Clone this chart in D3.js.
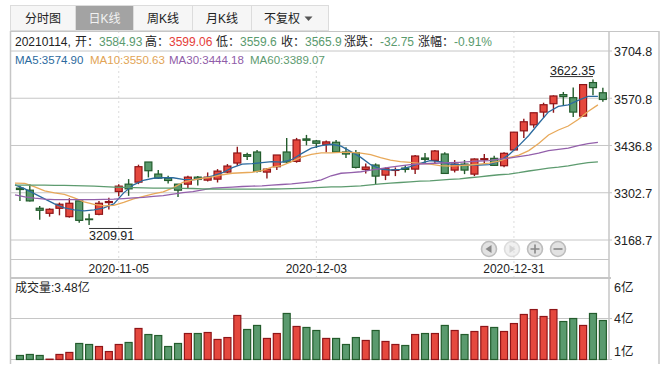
<!DOCTYPE html>
<html><head><meta charset="utf-8">
<script src="https://cdn.jsdelivr.net/npm/d3@7"></script>
<style>
html,body{margin:0;padding:0;background:#fff}
svg{display:block}
text{font-family:"Liberation Sans","Noto Sans CJK SC",sans-serif;font-size:12px;fill:#222}
</style></head><body>
<svg id="c" width="668" height="379"></svg>
<script>
const dates=["2020-10-22","2020-10-23","2020-10-26","2020-10-27","2020-10-28","2020-10-29","2020-10-30","2020-11-02","2020-11-03","2020-11-04","2020-11-05","2020-11-06","2020-11-09","2020-11-10","2020-11-11","2020-11-12","2020-11-13","2020-11-16","2020-11-17","2020-11-18","2020-11-19","2020-11-20","2020-11-23","2020-11-24","2020-11-25","2020-11-26","2020-11-27","2020-11-30","2020-12-01","2020-12-02","2020-12-03","2020-12-04","2020-12-07","2020-12-08","2020-12-09","2020-12-10","2020-12-11","2020-12-14","2020-12-15","2020-12-16","2020-12-17","2020-12-18","2020-12-21","2020-12-22","2020-12-23","2020-12-24","2020-12-25","2020-12-28","2020-12-29","2020-12-30","2020-12-31","2021-01-04","2021-01-05","2021-01-06","2021-01-07","2021-01-08","2021-01-11","2021-01-12","2021-01-13","2021-01-14"];
const dateTicks=["2020-11-05","2020-12-03","2020-12-31"];
const opens=[3314.3,3308.6,3257.3,3243.0,3257.3,3233.5,3278.2,3226.9,3240.2,3273.4,3304.8,3325.7,3331.4,3388.5,3354.3,3342.8,3325.7,3325.7,3345.6,3337.1,3339.9,3359.9,3385.6,3409.3,3416.9,3359.9,3375.1,3416.9,3390.3,3454.0,3448.3,3438.8,3444.5,3416.9,3415.0,3367.5,3379.9,3351.3,3364.6,3371.3,3368.4,3399.8,3393.2,3411.2,3365.6,3382.7,3354.2,3395.1,3398.9,3378.0,3422.7,3476.9,3494.0,3530.1,3553.9,3579.6,3571.0,3518.7,3613.8,3584.93];
const closes=[3310.5,3278.2,3251.6,3254.4,3268.7,3271.5,3223.0,3225.0,3271.5,3276.3,3320.0,3312.4,3375.2,3363.8,3342.8,3336.1,3308.6,3345.6,3339.0,3345.6,3362.7,3377.0,3414.1,3404.6,3361.8,3368.4,3408.4,3388.4,3451.2,3450.2,3441.7,3445.5,3416.9,3411.2,3373.2,3374.1,3348.5,3369.4,3365.6,3367.5,3405.5,3396.0,3419.8,3356.1,3382.7,3365.6,3397.0,3397.9,3379.0,3413.2,3473.1,3502.6,3528.2,3551.0,3575.8,3573.9,3530.1,3608.1,3599.5,3565.9];
const highs=[3321.0,3325.7,3263.9,3257.3,3273.4,3285.8,3280.1,3242.0,3278.2,3286.8,3325.7,3340.0,3380.9,3388.5,3365.7,3349.4,3325.7,3349.4,3348.5,3358.9,3368.4,3382.7,3432.1,3415.0,3422.6,3371.3,3408.4,3456.9,3456.9,3465.4,3451.2,3449.3,3451.2,3430.2,3422.6,3384.6,3384.6,3373.2,3373.2,3379.9,3408.4,3414.1,3422.6,3416.0,3394.1,3394.1,3398.9,3411.2,3406.5,3416.0,3473.1,3511.1,3528.2,3556.7,3577.7,3587.2,3599.5,3608.1,3622.35,3599.06];
const lows=[3278.2,3276.3,3225.0,3233.5,3237.3,3230.7,3216.4,3209.91,3237.3,3253.5,3291.5,3292.5,3325.7,3344.7,3340.0,3327.6,3289.5,3314.3,3321.9,3333.3,3330.4,3356.1,3378.0,3394.1,3358.9,3341.8,3365.6,3386.5,3386.5,3435.9,3428.3,3416.0,3415.0,3399.8,3370.3,3356.1,3325.7,3337.1,3348.5,3358.9,3354.2,3384.6,3382.7,3354.2,3358.9,3354.2,3348.5,3382.7,3377.1,3373.3,3420.8,3456.9,3485.4,3514.0,3528.2,3549.1,3515.9,3517.8,3577.7,3559.6];
const volumes=[0.36,0.45,0.36,0.03,0.45,0.63,1.43,1.34,1.16,0.71,1.34,1.52,2.77,2.23,2.14,1.16,1.43,2.32,2.32,2.41,1.79,1.96,3.93,2.68,3.04,1.88,2.32,4.11,2.95,2.86,2.59,1.88,1.88,1.34,1.96,1.70,2.59,1.61,1.34,1.25,2.23,2.32,2.32,3.04,2.59,2.23,2.50,2.95,2.86,2.50,3.21,4.02,4.46,3.84,4.46,3.39,3.66,3.04,4.11,3.48];
const ma5=[3323.8,3312.4,3298.2,3283.9,3269.6,3258.2,3252.5,3249.7,3252.5,3258.2,3269.6,3301.0,3323.8,3336.7,3342.4,3343.8,3343.8,3339.5,3338.1,3342.4,3349.5,3358.1,3372.3,3382.3,3383.7,3386.6,3389.4,3388.0,3395.1,3412.2,3427.9,3435.1,3438.8,3433.6,3417.9,3401.7,3380.9,3368.6,3365.8,3367.5,3375.2,3384.6,3392.3,3389.4,3382.9,3380.9,3380.0,3380.0,3380.9,3390.8,3409.4,3435.1,3463.6,3497.8,3530.6,3546.3,3550.6,3563.4,3574.8,3574.90];
const ma10=[3328.7,3328.1,3318.1,3306.7,3301.0,3296.7,3286.8,3275.3,3268.2,3263.9,3265.4,3273.9,3283.9,3291.0,3298.2,3303.9,3315.3,3331.0,3338.1,3342.4,3346.6,3352.4,3356.6,3358.1,3359.5,3363.8,3373.8,3378.0,3389.4,3402.3,3410.2,3414.2,3414.2,3415.9,3415.9,3413.7,3409.4,3400.8,3393.7,3389.4,3387.4,3384.6,3382.3,3378.0,3377.2,3378.0,3380.0,3382.6,3385.4,3390.8,3400.8,3408.0,3420.8,3440.8,3465.0,3479.3,3490.7,3509.2,3532.0,3550.63];
const ma30=[3295.3,3289.6,3285.9,3283.1,3281.9,3281.9,3281.9,3281.9,3281.9,3282.5,3283.1,3284.8,3286.8,3288.2,3291.0,3293.3,3297.3,3301.9,3304.7,3309.6,3314.4,3316.1,3317.3,3319.0,3320.1,3321.0,3323.0,3324.7,3326.7,3329.5,3332.4,3338.1,3349.5,3356.6,3358.6,3360.9,3365.2,3369.5,3373.8,3377.4,3380.9,3382.9,3384.3,3385.7,3386.6,3387.7,3389.4,3391.4,3392.3,3396.6,3399.4,3403.7,3408.0,3413.7,3420.8,3424.5,3427.9,3435.1,3440.8,3444.18];
const ma60=[3323.0,3323.0,3323.0,3322.7,3322.4,3322.1,3321.6,3321.0,3320.1,3318.7,3317.3,3316.4,3315.9,3315.3,3314.7,3314.4,3314.2,3313.9,3313.3,3312.4,3311.9,3311.6,3311.6,3311.6,3311.6,3311.6,3311.9,3312.4,3313.0,3313.9,3315.3,3316.4,3318.1,3318.1,3319.3,3321.0,3323.8,3326.7,3328.7,3330.4,3332.4,3334.4,3335.2,3337.2,3339.5,3340.9,3343.8,3346.6,3349.5,3352.4,3354.4,3358.1,3363.0,3367.2,3370.9,3373.8,3377.4,3382.3,3386.6,3389.07];
const priceTicks=[3704.8,3570.8,3436.8,3302.7,3168.7];
const volumeTicks=[6.47,3.66,0.67];
const tabs=["分时图","日K线","周K线","月K线","不复权"];
const summary=[["20210114,",15,"#222"],["开：",75,"#222"],["3584.93",99,"#5a9a6e"],["高：",145,"#222"],["3599.06",169,"#e5403a"],["低：",216,"#222"],["3559.6",240,"#5a9a6e"],["收：",281,"#222"],["3565.9",305,"#5a9a6e"],["涨跌：",344,"#222"],["-32.75",380,"#5a9a6e"],["涨幅：",418,"#222"],["-0.91%",454,"#5a9a6e"]];
const maLabels=[["MA5:3574.90",15,"#2b6a9e"],["MA10:3550.63",90,"#e2a455"],["MA30:3444.18",169,"#8f5ca8"],["MA60:3389.07",250,"#5d9b6f"]];
const maColors=["#2b6a9e","#e8a95a","#9360ab","#5d9b6f"];
const UP_FILL="#e5483e",UP_EDGE="#8f1518",DN_FILL="#5a9a6e",DN_EDGE="#235c2c",GRID="#c6c6c6";

const svg=d3.select("#c");
const x=d3.scaleBand().domain(dates).range([15,607.8]);
const bw=x.bandwidth();
const cx=d=>x(d)+bw/2;
const y=d3.scaleLinear().domain([3168.7,3704.8]).range([239.5,50.5]);
const yV=d3.scaleLinear().domain([0,6]).range([359.5,292.3]);
const rows=dates.map((d,i)=>({d,i,o:opens[i],c:closes[i],h:highs[i],l:lows[i],v:volumes[i],up:closes[i]>=opens[i]}));

const line=(x1,y1,x2,y2,w=1,c=GRID)=>svg.append("line").attr("x1",x1).attr("y1",y1).attr("x2",x2).attr("y2",y2).attr("stroke",c).attr("stroke-width",w);

// tabs
const tabEdges=[10,75,133,192,251,328];
tabs.forEach((t,i)=>{
  const a=i===1;
  svg.append("rect").attr("x",tabEdges[i]+.5).attr("y",5.5).attr("width",tabEdges[i+1]-tabEdges[i]).attr("height",25)
    .attr("fill",a?"#a3a3a3":"#f6f6f6").attr("stroke","#dcdcdc");
  svg.append("text").attr("x",i===4?264:(tabEdges[i]+tabEdges[i+1])/2+.5).attr("y",22.5)
    .attr("text-anchor",i===4?"start":"middle").style("fill",a?"#f2f2f2":"#222").text(t);
});
svg.append("path").attr("d","M304.5 16.5h8l-4 4.5z").attr("fill","#555");

// dashed verticals behind everything
dateTicks.forEach(d=>line(cx(d),31,cx(d),278,1,"#dcdcdc").attr("stroke-dasharray","2,3"));

// price axis
const gy=svg.append("g").attr("transform","translate(612,0)")
  .call(d3.axisRight(y).tickValues(priceTicks).tickSize(0).tickPadding(2).tickFormat(d3.format(".1f")));
gy.select(".domain").remove();
gy.selectAll("text").attr("y",1.3).style("font-size","12.5px").style("fill","#222");
gy.selectAll(".tick").append("line").attr("x1",-602).attr("x2",0).attr("stroke",GRID);

// frame lines
line(10.5,31,10.5,364,1.5);
line(609,31,609,360,1.5);
line(659,31,659,364,1.5);
line(10,31.5,659,31.5,1);
line(10,259.5,609,259.5,1);
line(10,278,611,278,2);
line(10,(yV(3.66)|0)+.5,612,(yV(3.66)|0)+.5,1);
line(10,359.5,612,359.5,1);

// candles
const candles=svg.append("g").selectAll("g").data(rows).join("g");
candles.append("line").attr("x1",r=>cx(r.d)).attr("x2",r=>cx(r.d)).attr("y1",r=>y(r.h)).attr("y2",r=>y(r.l))
  .attr("stroke",r=>r.up?UP_EDGE:DN_EDGE).attr("stroke-width",1.4);
candles.append("rect").attr("x",r=>cx(r.d)-3.5).attr("width",7)
  .attr("y",r=>y(Math.max(r.o,r.c))).attr("height",r=>Math.abs(y(r.o)-y(r.c)))
  .attr("fill",r=>r.up?UP_FILL:DN_FILL).attr("stroke",r=>r.up?UP_EDGE:DN_EDGE).attr("stroke-width",1.2);

// moving averages
[ma5,ma10,ma30,ma60].forEach((s,k)=>{
  svg.append("path").datum(s).attr("fill","none").attr("stroke",maColors[k]).attr("stroke-width",1.3)
    .attr("d",d3.line().x((v,i)=>x(dates[i])).y(v=>y(v)));
});

// extreme labels
const hi=rows.reduce((a,b)=>b.h>a.h?b:a),lo=rows.reduce((a,b)=>b.l<a.l?b:a);
line(cx(hi.d)-43,y(hi.h)-3,cx(hi.d),y(hi.h)-3,1,"#333");
svg.append("text").attr("x",cx(hi.d)-43).attr("y",y(hi.h)-4.5).style("font-size","12.5px").text(hi.h.toFixed(2));
line(cx(lo.d),y(lo.l)+3.5,cx(lo.d)+43,y(lo.l)+3.5,1,"#333");
svg.append("text").attr("x",cx(lo.d)).attr("y",y(lo.l)+15).style("font-size","12.5px").text(lo.l.toFixed(2));

// summary text
summary.forEach(([t,px,c])=>svg.append("text").attr("x",px).attr("y",45.5).style("fill",c).text(t));
maLabels.forEach(([t,px,c])=>svg.append("text").attr("x",px).attr("y",64).style("font-size","11.5px").style("fill",c).text(t));

// date labels
dateTicks.forEach(d=>svg.append("text").attr("x",cx(d)).attr("y",273).attr("text-anchor","middle").text(d));

// nav buttons
[[489,"l"],[512,"r"],[535,"p"],[558,"m"]].forEach(([bx,k])=>{
  const g=svg.append("g").attr("transform",`translate(${bx},249)`).attr("opacity",k==="r"?.5:1);
  g.append("circle").attr("r",7.5).attr("fill","#e2e2e2").attr("stroke","#bdbdbd").attr("stroke-width",1.6);
  if(k==="l")g.append("path").attr("d","M2.5-4v8l-6-4z").attr("fill","#888");
  if(k==="r")g.append("path").attr("d","M-2.5-4v8l6-4z").attr("fill","#aaa");
  if(k==="p")g.append("path").attr("d","M-4.5 0h9M0-4.5v9").attr("stroke","#888").attr("stroke-width",1.6);
  if(k==="m")g.append("path").attr("d","M-4.5 0h9").attr("stroke","#888").attr("stroke-width",1.6);
});

// volume
svg.append("g").selectAll("rect").data(rows).join("rect")
  .attr("x",r=>cx(r.d)-3.5).attr("width",7).attr("y",r=>yV(r.v)).attr("height",r=>yV(0)-yV(r.v))
  .attr("fill",r=>r.up?UP_FILL:DN_FILL).attr("stroke",r=>r.up?UP_EDGE:DN_EDGE).attr("stroke-width",1.2);
svg.append("text").attr("x",15).attr("y",292).text("成交量:"+volumes[59].toFixed(2)+"亿");
const gv=svg.append("g").attr("transform","translate(612,0)")
  .call(d3.axisRight(yV).tickValues(volumeTicks).tickSize(0).tickPadding(2).tickFormat(v=>Math.round(v)+"亿"));
gv.select(".domain").remove();
gv.selectAll("text").style("font-size","12.5px").style("fill","#222");
</script>
</body></html>
